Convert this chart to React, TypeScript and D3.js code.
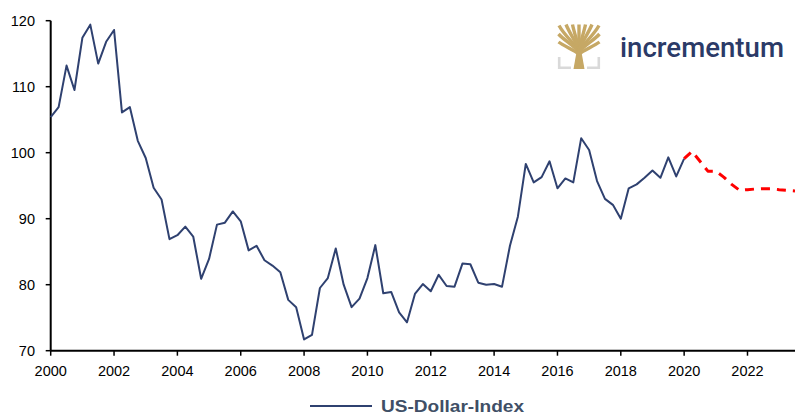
import React from "react";
import * as d3 from "d3";

const W = 795;
const H = 415;

// quarterly US-Dollar-Index, starting 2000 Q1
const actualStart = 2000;
const actualValues = [
  105.4, 106.9, 113.2, 109.5, 117.4, 119.4, 113.5, 116.8,
  118.6, 106.1, 106.9, 101.8, 99.2, 94.7, 92.9, 86.9,
  87.5, 88.8, 87.3, 80.9, 83.9, 89.1, 89.4, 91.1,
  89.6, 85.2, 85.9, 83.7, 82.9, 81.9, 77.7, 76.6,
  71.7, 72.4, 79.5, 81.0, 85.5, 80.0, 76.6, 77.9,
  81.0, 86.0, 78.7, 78.9, 75.8, 74.3, 78.6, 80.1,
  79.0, 81.5, 79.8, 79.7, 83.2, 83.1, 80.3, 80.0,
  80.1, 79.7, 85.9, 90.3, 98.3, 95.5, 96.3, 98.7,
  94.6, 96.1, 95.5, 102.2, 100.4, 95.7, 93.0, 92.1,
  90.0, 94.6, 95.2, 96.2, 97.3, 96.2, 99.3, 96.4,
  99.1,
];

// forecast, quarterly from 2020 Q1
const forecastStart = 2020;
const forecastValues = [
  99.1, 100.2, 98.7, 97.2, 97.2, 96.3, 95.2, 94.3,
  94.4, 94.5, 94.55, 94.55, 94.4, 94.3, 94.2,
];

const xTicks = [2000, 2002, 2004, 2006, 2008, 2010, 2012, 2014, 2016, 2018, 2020, 2022];
const yTicks = [70, 80, 90, 100, 110, 120];
const legendLabel = "US-Dollar-Index";
const brandName = "incrementum";

const toPoints = (start: number, vals: number[]) =>
  vals.map((v, i) => ({ t: start + i * 0.25, v }));

export default function App() {
  const x = d3.scaleLinear().domain([2000, 2023.5]).range([50.7, 795]);
  const y = d3.scaleLinear().domain([70, 120]).range([350.7, 20.7]);

  const line = d3
    .line<{ t: number; v: number }>()
    .x((d) => x(d.t))
    .y((d) => y(d.v));

  const actual = toPoints(actualStart, actualValues);
  const forecast = toPoints(forecastStart, forecastValues);

  const navy = "#2F4170";
  const font = "'Liberation Sans', Arial, sans-serif";

  // logo tree (local coords, 42 x 45)
  const lx = 558;
  const ly = 24;
  const gold = "#C6A865";
  const branches = [
    "M21,28 C18,20 8,14 1,1.5",
    "M21,28 C16,22 6,16 0.5,10",
    "M21,30 C16,26 6,22 0.5,18",
    "M21,26 C18,18 12,10 8,0.5",
    "M21,26 C19,16 16,8 14.5,0.5",
    "M21,26 C21,16 21,8 21,0.5",
    "M21,26 C23,16 26,8 27.5,0.5",
    "M21,26 C24,18 30,10 34,0.5",
    "M21,28 C24,20 34,14 41,1.5",
    "M21,28 C26,22 36,16 41.5,10",
    "M21,30 C26,26 36,22 41.5,18",
  ];

  return (
    <svg width={W} height={H} style={{ position: "absolute", left: 0, top: 0 }}>
      <rect width={W} height={H} fill="#fff" />

      {/* logo */}
      <g transform={`translate(${lx},${ly})`}>
        {branches.map((d, i) => (
          <path key={i} d={d} fill="none" stroke={gold} strokeWidth={3.4} strokeLinecap="butt" />
        ))}
        <path d="M15.5,45 L18.5,28 Q21,24 23.5,28 L26.5,45 Z" fill={gold} />
        <path d="M1.2,33 L1.2,43.8 L13,43.8" fill="none" stroke="#D9D9D9" strokeWidth={2.6} />
        <path d="M40.8,33 L40.8,43.8 L29,43.8" fill="none" stroke="#D9D9D9" strokeWidth={2.6} />
      </g>
      <text
        x={620}
        y={57}
        fontFamily="Roboto, 'Noto Sans', sans-serif"
        fontWeight={500}
        fontSize={28.5}
        fill="#2B3A67"
        textLength={164}
        lengthAdjust="spacingAndGlyphs"
      >
        {brandName}
      </text>

      {/* axes */}
      <line x1={x(2000)} x2={x(2000)} y1={y(120)} y2={y(70)} stroke="#000" strokeWidth={2} />
      <line x1={x(2000)} x2={W} y1={y(70)} y2={y(70)} stroke="#000" strokeWidth={2} />
      {yTicks.map((t) => (
        <g key={t}>
          <line x1={x(2000) - 5} x2={x(2000)} y1={y(t)} y2={y(t)} stroke="#000" strokeWidth={1.5} />
          <text
            x={35}
            y={y(t)}
            textAnchor="end"
            dominantBaseline="central"
            fontFamily={font}
            fontSize={14.5}
            fill="#000"
          >
            {t}
          </text>
        </g>
      ))}
      {xTicks.map((t) => (
        <g key={t}>
          <line x1={x(t)} x2={x(t)} y1={y(70)} y2={y(70) + 5} stroke="#000" strokeWidth={1.5} />
          <text
            x={x(t)}
            y={376}
            textAnchor="middle"
            fontFamily={font}
            fontSize={14.5}
            fill="#000"
          >
            {t}
          </text>
        </g>
      ))}

      {/* series */}
      <path d={line(actual) || ""} fill="none" stroke={navy} strokeWidth={2} strokeLinejoin="round" />
      <path
        d={line(forecast) || ""}
        fill="none"
        stroke="#FF0000"
        strokeWidth={3}
        strokeDasharray="9 7"
        strokeLinejoin="round"
      />

      {/* legend */}
      <line x1={310} x2={372} y1={406} y2={406} stroke={navy} strokeWidth={2} />
      <text
        x={381}
        y={406}
        dominantBaseline="central"
        fontFamily={font}
        fontWeight="bold"
        fontSize={17}
        fill="#404F66"
        textLength={143}
        lengthAdjust="spacingAndGlyphs"
      >
        {legendLabel}
      </text>
    </svg>
  );
}
